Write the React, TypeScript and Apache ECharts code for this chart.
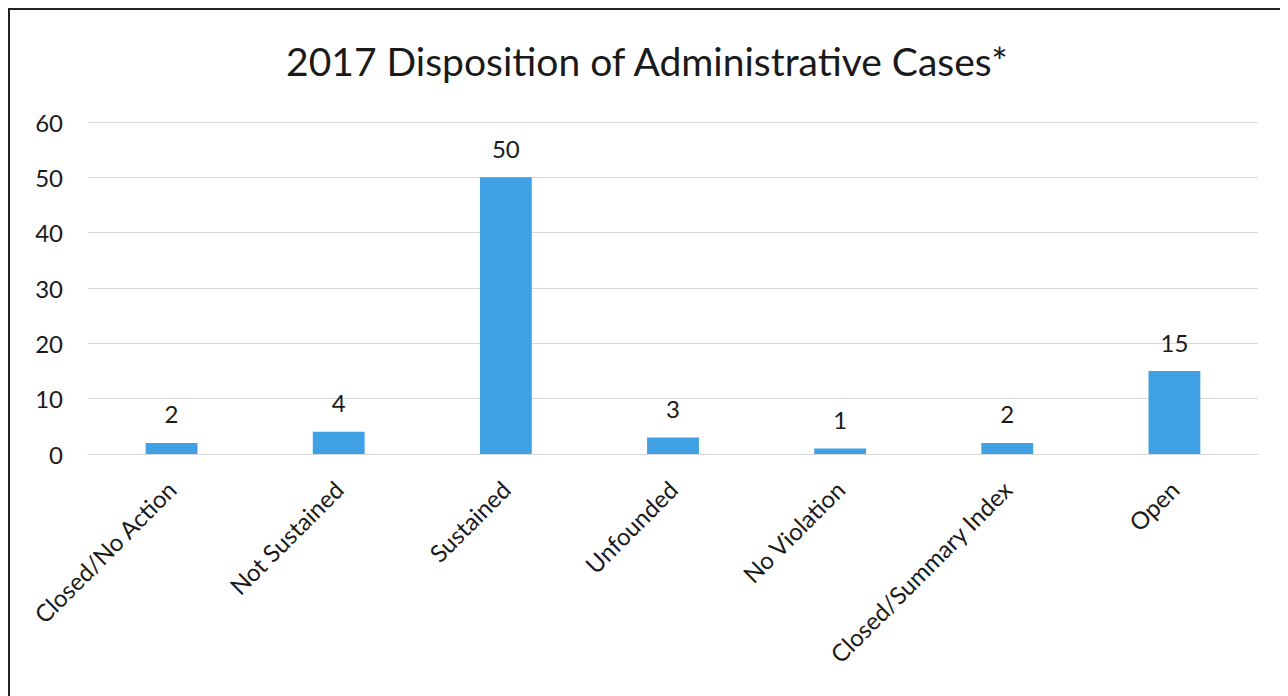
import React, { useEffect, useRef } from "react";
import * as echarts from "echarts";

const categories = [
  "Closed/No Action",
  "Not Sustained",
  "Sustained",
  "Unfounded",
  "No Violation",
  "Closed/Summary Index",
  "Open",
];
const caseCounts = [2, 4, 50, 3, 1, 2, 15];
const chartTitle = "2017 Disposition of Administrative Cases*";

const FONT = "Lato, 'Open Sans', sans-serif";

export default function App() {
  const ref = useRef<HTMLDivElement>(null);
  useEffect(() => {
    if (!ref.current) return;
    const chart = echarts.init(ref.current, undefined, { renderer: "svg" });
    chart.setOption({
      animation: false,
      backgroundColor: "#ffffff",
      title: {
        text: chartTitle,
        left: "center",
        top: 26,
        textStyle: { fontFamily: FONT, fontSize: 39, fontWeight: "normal", color: "#1a1a1a" },
      },
      grid: { left: 78, right: 26, top: 112, bottom: 242 },
      xAxis: {
        type: "category",
        data: categories,
        axisLine: { show: true, lineStyle: { color: "#d9d9d9", width: 1 } },
        axisTick: { show: false },
        axisLabel: {
          rotate: 45,
          interval: 0,
          margin: 31,
          fontFamily: FONT,
          fontSize: 24,
          color: "#1a1a1a",
        },
      },
      yAxis: {
        type: "value",
        min: 0,
        max: 60,
        interval: 10,
        axisLine: { show: false },
        axisTick: { show: false },
        splitLine: { lineStyle: { color: "#d9d9d9", width: 1 } },
        axisLabel: { margin: 25, fontFamily: FONT, fontSize: 24, color: "#1a1a1a" },
      },
      series: [
        {
          type: "bar",
          data: caseCounts,
          barWidth: "31%",
          itemStyle: { color: "#3fa0e3" },
          label: {
            show: true,
            position: "top",
            distance: 17,
            fontFamily: FONT,
            fontSize: 24,
            color: "#1a1a1a",
          },
        },
      ],
    });
    return () => chart.dispose();
  }, []);
  return (
    <div
      style={{
        width: 1278,
        height: 688,
        boxSizing: "border-box",
        borderTop: "2px solid #222",
        borderLeft: "2px solid #222",
        borderRight: "2px solid #222",
        background: "#fff",
      }}
    >
      <div ref={ref} style={{ width: 1274, height: 686 }} />
    </div>
  );
}
